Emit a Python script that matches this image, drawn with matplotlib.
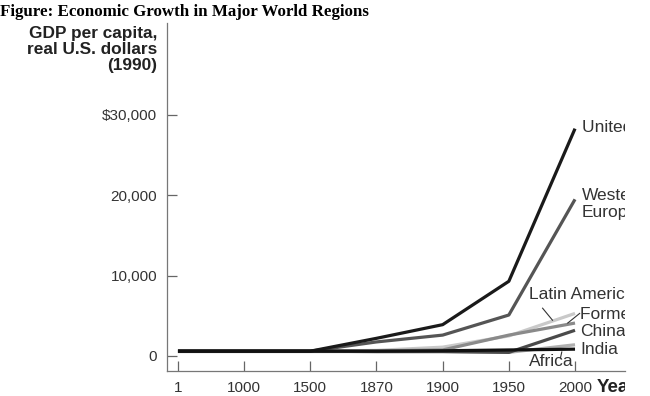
import matplotlib
matplotlib.use('Agg')
import matplotlib.pyplot as plt
from matplotlib.transforms import Bbox, TransformedBbox

# x axis is categorical (uneven years), values in 1990 US dollars
years = ['1', '1000', '1500', '1870', '1900', '1950', '2000']
united_states = [600, 600, 600, 2200, 3900, 9300, 28300]
western_europe = [600, 600, 600, 1750, 2600, 5100, 19500]
latin_america = [600, 600, 600, 700, 1100, 2500, 5300]
former_ussr = [600, 600, 600, 650, 750, 2600, 4100]
china = [600, 600, 600, 550, 550, 450, 3200]
india = [550, 550, 550, 550, 550, 450, 1400]
africa = [600, 600, 600, 600, 650, 750, 850]

y_ticks = [0, 10000, 20000, 30000]
y_tick_labels = ['0', '10,000', '20,000', '$30,000']

plt.rcParams['font.family'] = ['Liberation Sans', 'DejaVu Sans']

fig = plt.figure(figsize=(6.5, 3.96), dpi=100)
ax = fig.add_axes([0.2569, 0.0631, 0.7046, 0.8788])

# the source picture was cropped on the right, labels run off at ~625px
crop = TransformedBbox(Bbox([[0, 0], [625 / 650, 1]]), fig.transFigure)

x = list(range(len(years)))
lw = 2.3
ax.plot(x, latin_america, color='#c9c9c9', lw=lw, solid_capstyle='butt')
ax.plot(x, india, color='#b0b0b0', lw=lw, solid_capstyle='butt')
ax.plot(x, former_ussr, color='#8a8a8a', lw=lw, solid_capstyle='butt')
ax.plot(x, china, color='#4a4a4a', lw=lw, solid_capstyle='butt')
ax.plot(x, western_europe, color='#555555', lw=lw, solid_capstyle='butt')
ax.plot(x, united_states, color='#1a1a1a', lw=lw, solid_capstyle='butt')
ax.plot(x, africa, color='#111111', lw=lw, solid_capstyle='butt')

ax.set_xlim(-0.166, 6.755)
ax.set_ylim(-1870, 41450)

ax.set_xticks(x)
ax.set_xticklabels(years)
ax.set_yticks(y_ticks)
ax.set_yticklabels(y_tick_labels)
ax.tick_params(axis='x', direction='in', length=7.5, width=0.9, color='#666666',
               labelsize=11, labelcolor='#333333', pad=7)
ax.tick_params(axis='y', direction='in', length=7.2, width=0.9, color='#666666',
               labelsize=11, labelcolor='#333333', pad=7)

for side in ['top', 'right']:
    ax.spines[side].set_visible(False)
for side in ['left', 'bottom']:
    ax.spines[side].set_color('#777777')
    ax.spines[side].set_linewidth(0.9)

labels = []
lab = dict(fontsize=12.5, color='#333333', va='center', ha='left')
labels.append(ax.text(6.1, 28400, 'United States', **lab))
labels.append(ax.text(6.1, 18900, 'Western\nEurope', linespacing=1.12, **lab))
labels.append(ax.text(6.08, 5200, 'Former Soviet Union', **lab))
labels.append(ax.text(6.08, 3000, 'China', **lab))
labels.append(ax.text(6.08, 850, 'India', **lab))
labels.append(ax.text(5.3, 7600, 'Latin America', **lab))
labels.append(ax.text(5.3, -650, 'Africa', **lab))

ax.plot([5.51, 5.66], [5950, 4450], color='#333333', lw=0.8)
ax.plot([6.07, 5.89], [5300, 4100], color='#333333', lw=0.8)
ax.plot([5.78, 5.80], [-250, 500], color='#333333', lw=0.8)

labels.append(fig.text(597 / 650, 1 - 387 / 396, 'Year', fontsize=13.5,
                       fontweight='bold', color='#222222', ha='left', va='center'))

for t in labels:
    t.set_clip_box(crop)
    t.set_clip_on(True)

fig.text(157 / 650, 1 - 26 / 396, 'GDP per capita,\nreal U.S. dollars\n(1990)',
         fontsize=12.4, fontweight='bold', color='#222222', ha='right', va='top',
         multialignment='right', linespacing=1.1)

fig.text(0.0, 1 - 12 / 396, 'Figure: Economic Growth in Major World Regions',
         family='Liberation Serif', fontsize=12.2, fontweight='bold',
         color='black', ha='left', va='center')

fig.savefig('out.png', dpi=100)
